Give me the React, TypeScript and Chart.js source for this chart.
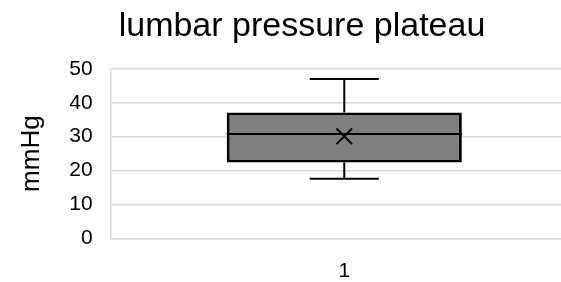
import React, { useEffect, useRef } from "react";
import { Chart, registerables } from "chart.js";

Chart.register(...registerables);

const categories = ["1"];
const whiskerMin = [17.6];
const q1 = [22.4];
const median = [30.8];
const q3 = [37.1];
const whiskerMax = [47];
const mean = [30.1];
const yTicks = [0, 10, 20, 30, 40, 50];

const FONT = "'Liberation Sans', Arial, sans-serif";

const boxPlugin = {
  id: "boxWhiskers",
  afterDatasetsDraw(chart: any) {
    const ctx = chart.ctx;
    const x = chart.scales.x;
    const y = chart.scales.y;
    const meta = chart.getDatasetMeta(0);
    ctx.save();
    ctx.strokeStyle = "#000";
    categories.forEach((_, i) => {
      const bar = meta.data[i];
      const cx = x.getPixelForValue(i);
      const half = bar.width / 2;
      const capHalf = bar.width * 0.147;
      const yMin = y.getPixelForValue(whiskerMin[i]);
      const yQ1 = y.getPixelForValue(q1[i]);
      const yQ3 = y.getPixelForValue(q3[i]);
      const yMax = y.getPixelForValue(whiskerMax[i]);
      const yMed = y.getPixelForValue(median[i]);
      ctx.lineWidth = 2;
      ctx.beginPath();
      ctx.moveTo(cx, yQ3);
      ctx.lineTo(cx, yMax);
      ctx.moveTo(cx - capHalf, yMax);
      ctx.lineTo(cx + capHalf, yMax);
      ctx.moveTo(cx, yQ1);
      ctx.lineTo(cx, yMin);
      ctx.moveTo(cx - capHalf, yMin);
      ctx.lineTo(cx + capHalf, yMin);
      ctx.moveTo(cx - half, yMed);
      ctx.lineTo(cx + half, yMed);
      ctx.stroke();
    });
    ctx.restore();
  },
};

export default function App() {
  const ref = useRef<HTMLCanvasElement | null>(null);
  useEffect(() => {
    if (!ref.current) return;
    const chart = new Chart(ref.current, {
      type: "bar",
      data: {
        labels: categories,
        datasets: [
          {
            type: "bar",
            data: categories.map((_, i) => [q1[i], q3[i]]) as any,
            backgroundColor: "#7f7f7f",
            borderColor: "#000",
            borderWidth: 3,
            borderSkipped: false,
            barPercentage: 0.503,
            categoryPercentage: 1,
            order: 2,
          },
          {
            type: "line",
            data: mean,
            showLine: false,
            pointStyle: "crossRot",
            pointRadius: 11,
            pointBorderColor: "#000",
            pointBorderWidth: 2,
            pointBackgroundColor: "#000",
            order: 1,
          } as any,
        ],
      },
      options: {
        responsive: false,
        animation: false,
        layout: { padding: { left: 26, right: 36, top: 0, bottom: -21.5 } },
        plugins: {
          legend: { display: false },
          tooltip: { enabled: false },
          title: {
            display: true,
            text: "lumbar pressure plateau",
            color: "#000",
            font: { family: FONT, size: 34, weight: "normal" },
            padding: { top: 6, bottom: 22 },
          },
        },
        scales: {
          x: {
            grid: { display: false, drawTicks: false },
            border: { display: true, color: "#d9d9d9", width: 1.5 },
            ticks: {
              color: "#000",
              font: { family: FONT, size: 21, lineHeight: 1 },
              padding: 22,
            },
          },
          y: {
            min: 0,
            max: 50,
            afterBuildTicks: (scale: any) => {
              scale.ticks = yTicks.map((v) => ({ value: v }));
            },
            grid: { color: "#d9d9d9", lineWidth: 1.5, drawTicks: false },
            border: { display: true, color: "#d9d9d9", width: 1.5 },
            ticks: {
              color: "#000",
              font: { family: FONT, size: 21 },
              padding: 18,
            },
            title: {
              display: true,
              text: "mmHg",
              color: "#000",
              font: { family: FONT, size: 26 },
              padding: { top: -10, bottom: 4 },
            },
          },
        },
      },
      plugins: [boxPlugin],
    });
    return () => chart.destroy();
  }, []);
  return (
    <div
      style={{
        position: "fixed",
        left: 0,
        top: 0,
        width: 561,
        height: 282,
        overflow: "hidden",
        background: "#fff",
      }}
    >
      <canvas ref={ref} width={614} height={282} />
    </div>
  );
}
